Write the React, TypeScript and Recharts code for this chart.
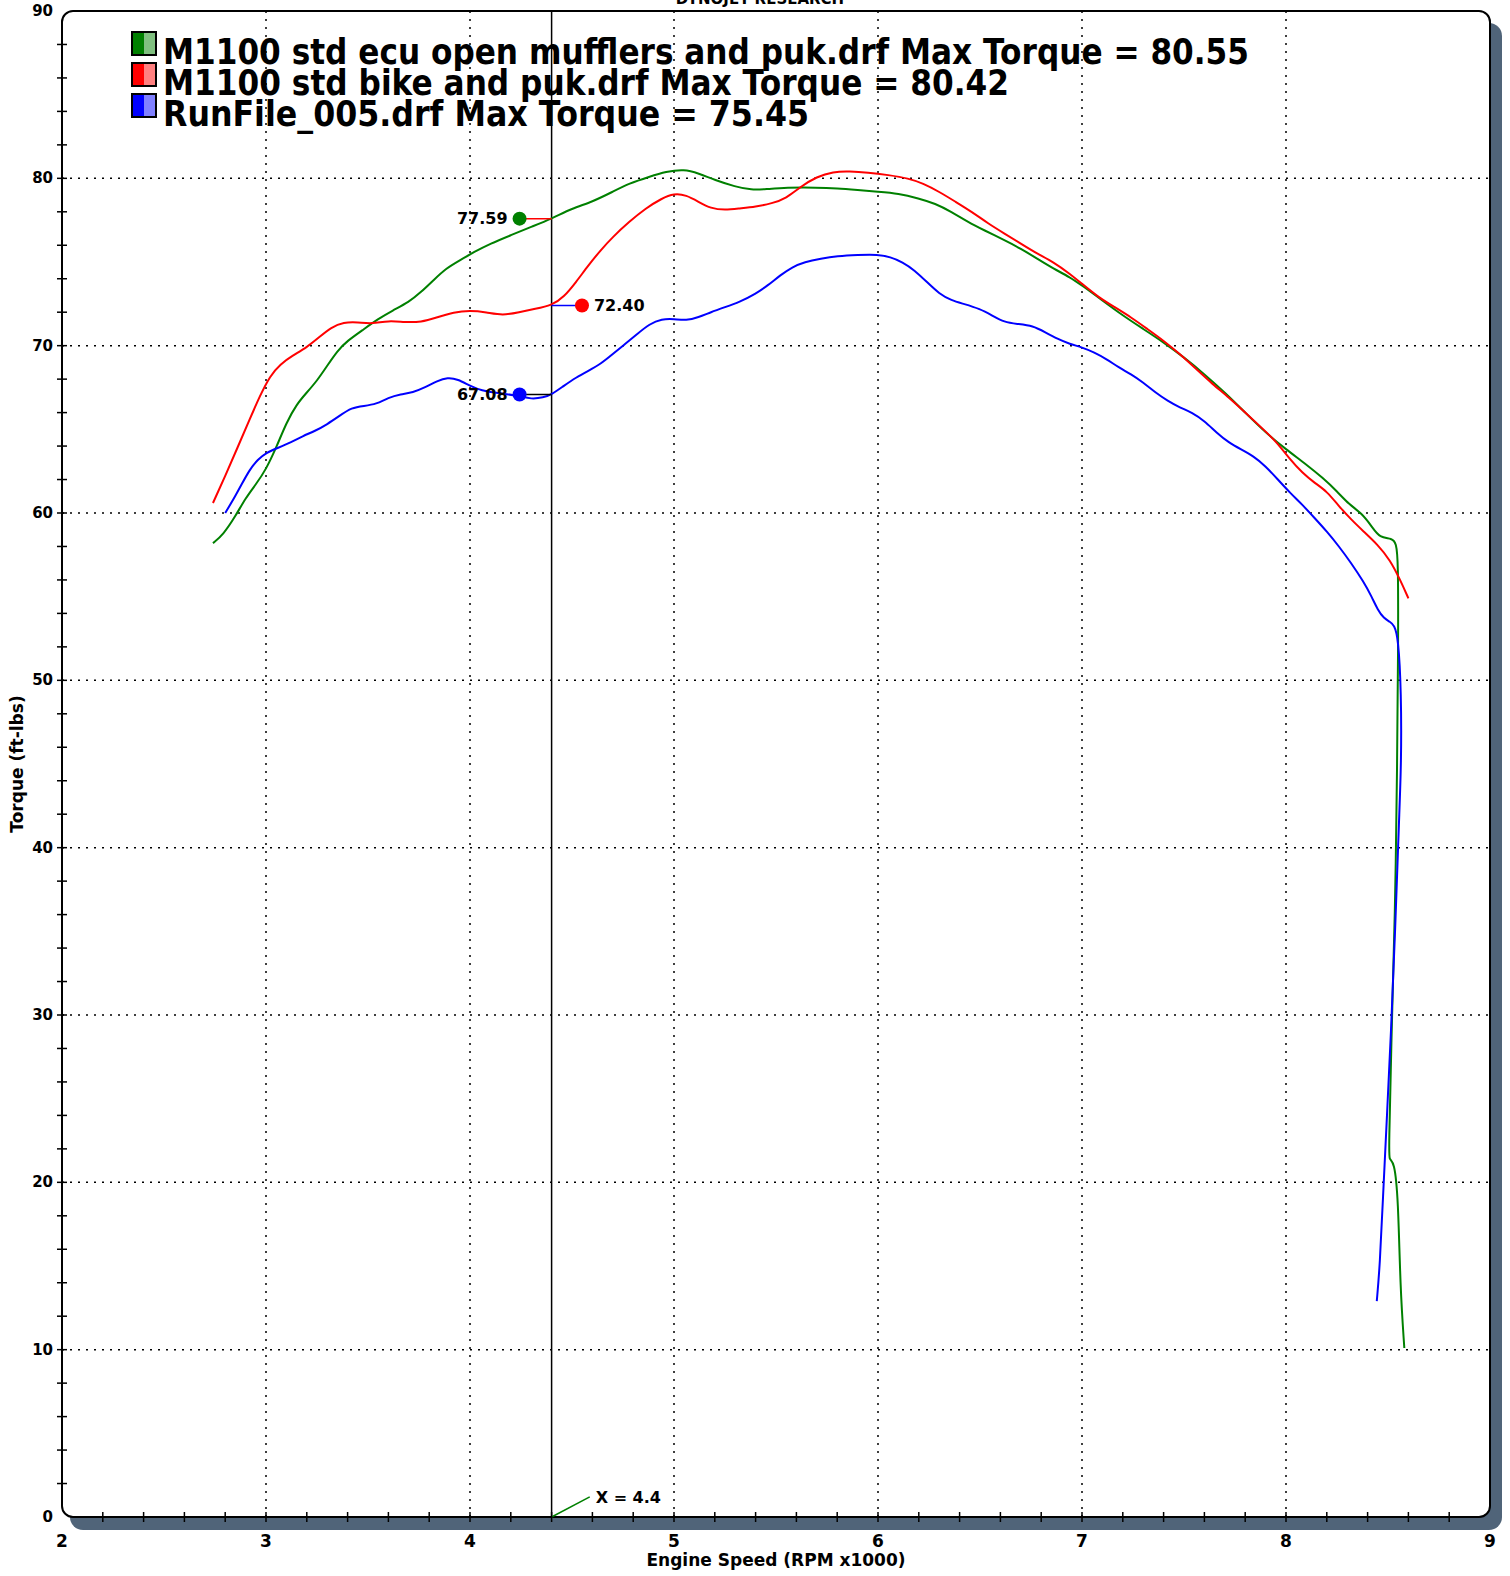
import { LineChart, Line, XAxis, YAxis, ReferenceLine, ReferenceDot } from "recharts";

// dyno run values (rpm x1000, ft-lbs)
const greenRun: [number, number][] = [
  [2.74, 58.2], [2.79, 58.7], [2.85, 59.8], [2.9, 60.9], [2.95, 61.7], [3.0, 62.6], [3.05, 63.9],
  [3.1, 65.4], [3.15, 66.5], [3.2, 67.2], [3.25, 67.9], [3.3, 68.8], [3.35, 69.7], [3.4, 70.3],
  [3.47, 70.9], [3.55, 71.6], [3.62, 72.1], [3.7, 72.6], [3.76, 73.2], [3.82, 73.9], [3.88, 74.6],
  [3.95, 75.1], [4.02, 75.6], [4.1, 76.1], [4.2, 76.6], [4.3, 77.1], [4.4, 77.59], [4.5, 78.2],
  [4.6, 78.6], [4.7, 79.2], [4.78, 79.7], [4.88, 80.1], [4.96, 80.4], [5.05, 80.55], [5.12, 80.3],
  [5.2, 79.9], [5.3, 79.5], [5.38, 79.3], [5.45, 79.35], [5.55, 79.45], [5.7, 79.45], [5.8, 79.4],
  [5.9, 79.3], [6.0, 79.2], [6.1, 79.1], [6.2, 78.8], [6.28, 78.5], [6.36, 78.0], [6.44, 77.4],
  [6.52, 76.9], [6.62, 76.3], [6.7, 75.8], [6.78, 75.2], [6.86, 74.6], [6.94, 74.1], [7.0, 73.6],
  [7.1, 72.7], [7.2, 71.8], [7.3, 71.0], [7.4, 70.2], [7.5, 69.3], [7.6, 68.3], [7.7, 67.2],
  [7.8, 66.0], [7.9, 64.8], [8.0, 63.8], [8.1, 62.9], [8.18, 62.1], [8.25, 61.3], [8.31, 60.5],
  [8.37, 60.0], [8.42, 59.2], [8.46, 58.5], [8.52, 58.5], [8.54, 58.2], [8.55, 57.2], [8.55, 52.0],
  [8.545, 45], [8.535, 36], [8.515, 28], [8.505, 22], [8.505, 21.3], [8.53, 21.3], [8.55, 19.1],
  [8.56, 13.7], [8.58, 10.1],
];

const redRun: [number, number][] = [
  [2.74, 60.6], [2.8, 62.2], [2.86, 63.9], [2.92, 65.6], [2.97, 67.0], [3.02, 68.2], [3.07, 68.9],
  [3.13, 69.4], [3.2, 69.9], [3.26, 70.5], [3.32, 71.1], [3.38, 71.4], [3.45, 71.4], [3.52, 71.3],
  [3.6, 71.5], [3.68, 71.4], [3.76, 71.4], [3.84, 71.7], [3.92, 72.0], [4.0, 72.1], [4.08, 72.0],
  [4.16, 71.8], [4.24, 72.0], [4.32, 72.2], [4.4, 72.4], [4.46, 72.9], [4.52, 73.8], [4.58, 74.8],
  [4.64, 75.7], [4.7, 76.5], [4.78, 77.4], [4.86, 78.2], [4.94, 78.8], [5.0, 79.1], [5.06, 79.0],
  [5.12, 78.6], [5.18, 78.2], [5.25, 78.1], [5.32, 78.2], [5.4, 78.3], [5.48, 78.5], [5.55, 78.8],
  [5.62, 79.5], [5.7, 80.1], [5.78, 80.4], [5.86, 80.42], [5.95, 80.35], [6.05, 80.2], [6.15, 80.0],
  [6.22, 79.7], [6.3, 79.2], [6.38, 78.6], [6.46, 78.0], [6.54, 77.3], [6.62, 76.7], [6.7, 76.1],
  [6.78, 75.5], [6.86, 75.0], [6.94, 74.3], [7.0, 73.7], [7.08, 72.9], [7.16, 72.3], [7.24, 71.7],
  [7.32, 71.0], [7.4, 70.3], [7.48, 69.5], [7.56, 68.6], [7.64, 67.7], [7.72, 66.9], [7.8, 66.0],
  [7.88, 65.1], [7.95, 64.3], [8.02, 63.2], [8.08, 62.4], [8.14, 61.8], [8.2, 61.3], [8.26, 60.4],
  [8.32, 59.6], [8.38, 58.9], [8.45, 58.1], [8.51, 57.2], [8.56, 56.0], [8.6, 54.9],
];

const blueRun: [number, number][] = [
  [2.8, 60.0], [2.84, 60.8], [2.88, 61.7], [2.92, 62.6], [2.96, 63.2], [3.0, 63.6], [3.06, 63.9],
  [3.12, 64.2], [3.18, 64.6], [3.24, 64.9], [3.3, 65.3], [3.36, 65.8], [3.42, 66.3], [3.48, 66.4],
  [3.54, 66.5], [3.6, 66.9], [3.66, 67.1], [3.72, 67.2], [3.78, 67.5], [3.84, 67.9], [3.89, 68.1],
  [3.94, 68.0], [4.0, 67.6], [4.06, 67.3], [4.12, 67.2], [4.18, 67.1], [4.24, 67.0], [4.3, 66.8],
  [4.36, 66.9], [4.4, 67.08], [4.46, 67.6], [4.52, 68.1], [4.58, 68.5], [4.64, 68.9], [4.7, 69.5],
  [4.76, 70.1], [4.82, 70.7], [4.88, 71.3], [4.94, 71.6], [5.0, 71.6], [5.06, 71.5], [5.12, 71.7],
  [5.18, 72.0], [5.25, 72.3], [5.32, 72.6], [5.4, 73.1], [5.46, 73.6], [5.52, 74.2], [5.58, 74.7],
  [5.64, 75.0], [5.72, 75.2], [5.8, 75.35], [5.9, 75.42], [6.0, 75.45], [6.06, 75.3], [6.12, 75.0],
  [6.18, 74.5], [6.24, 73.8], [6.3, 73.1], [6.36, 72.7], [6.42, 72.5], [6.5, 72.2], [6.56, 71.8],
  [6.62, 71.4], [6.68, 71.3], [6.76, 71.2], [6.82, 70.8], [6.88, 70.4], [6.94, 70.1], [7.0, 69.9],
  [7.06, 69.6], [7.12, 69.2], [7.18, 68.7], [7.24, 68.3], [7.3, 67.8], [7.36, 67.2], [7.42, 66.7],
  [7.48, 66.3], [7.54, 66.0], [7.6, 65.5], [7.66, 64.8], [7.72, 64.2], [7.78, 63.8], [7.84, 63.4],
  [7.9, 62.8], [7.96, 62.0], [8.02, 61.2], [8.08, 60.5], [8.14, 59.7], [8.2, 58.9], [8.26, 58.0],
  [8.32, 57.0], [8.38, 55.9], [8.42, 55.0], [8.45, 54.2], [8.48, 53.7], [8.51, 53.5], [8.53, 53.3],
  [8.55, 52.6], [8.565, 49.3], [8.565, 45], [8.555, 42], [8.535, 35], [8.515, 29], [8.495, 24],
  [8.475, 19], [8.46, 15], [8.445, 12.9],
];

const legendLabels = [
  "M1100 std ecu open mufflers and puk.drf Max Torque = 80.55",
  "M1100 std bike and puk.drf Max Torque = 80.42",
  "RunFile_005.drf Max Torque = 75.45",
];

const xTicks = Array.from({ length: 36 }, (_, i) => Math.round((2 + i * 0.2) * 10) / 10);
const yTicks = Array.from({ length: 46 }, (_, i) => i * 2);
const gridX = [3, 4, 5, 6, 7, 8];
const gridY = [10, 20, 30, 40, 50, 60, 70, 80];

const cursorRpm = 4.4;
const cursorValues = { green: 77.59, red: 72.4, blue: 67.08 };

const GREEN = "#008000";
const RED = "#ff0000";
const BLUE = "#0000ff";
const SHADOW = "#506479";
const FONT = "'DejaVu Sans', Verdana, sans-serif";

const toRows = (pts: [number, number][]) => pts.map(([rpm, torque]) => ({ rpm, torque }));

const isMajor = (v: number) => Math.abs(v - Math.round(v)) < 1e-6;

function XTick({ x, y, payload }: any) {
  const v = payload.value;
  const corner = v === 2 || v === 9;
  return (
    <g>
      {!corner && <line x1={x} x2={x} y1={y - 5} y2={y + 5} stroke="#000" strokeWidth={1.5} />}
      {isMajor(v) && (
        <text x={x} y={y + 30} textAnchor="middle" fontFamily={FONT} fontWeight="bold" fontSize={17} fill="#000">
          {v}
        </text>
      )}
    </g>
  );
}

function YTick({ x, y, payload }: any) {
  const v = payload.value;
  const corner = v === 0 || v === 90;
  return (
    <g>
      {!corner && <line x1={x - 5} x2={x + 5} y1={y} y2={y} stroke="#000" strokeWidth={1.5} />}
      {v % 10 === 0 && (
        <text x={x - 9} y={y + 5} textAnchor="end" fontFamily={FONT} fontWeight="bold" fontSize={15} fill="#000">
          {v}
        </text>
      )}
    </g>
  );
}

const dotLabel = (value: string, position: "left" | "right") => ({
  value,
  position,
  offset: 5,
  fill: "#000",
  fontFamily: FONT,
  fontWeight: "bold",
  fontSize: 16,
});

export default function App() {
  const colors = [GREEN, RED, BLUE];
  const lights = ["#80c080", "#ff8080", "#8080ff"];
  const widths = [1086, 846, 646];

  return (
    <div style={{ position: "absolute", left: 0, top: 0, width: 1510, height: 1576, background: "#fff" }}>
      <div
        style={{
          position: "absolute",
          left: 70,
          top: 23,
          width: 1432,
          height: 1507,
          background: SHADOW,
          borderRadius: 13,
        }}
      />
      <div
        style={{
          position: "absolute",
          left: 61,
          top: 10,
          width: 1430,
          height: 1508,
          boxSizing: "border-box",
          border: "2px solid #000",
          borderRadius: 12,
          background: "#fff",
        }}
      />
      <div style={{ position: "absolute", left: 0, top: 0 }}>
        <LineChart width={1510} height={1576} margin={{ top: 11, right: 20, bottom: 0, left: 0 }}>
          <XAxis
            type="number"
            dataKey="rpm"
            domain={[2, 9]}
            ticks={xTicks}
            interval={0}
            allowDataOverflow
            axisLine={false}
            tickLine={false}
            tickSize={0}
            tickMargin={0}
            height={59}
            tick={<XTick />}
          />
          <YAxis
            type="number"
            domain={[0, 90]}
            ticks={yTicks}
            interval={0}
            allowDataOverflow
            axisLine={false}
            tickLine={false}
            tickSize={0}
            tickMargin={0}
            width={62}
            tick={<YTick />}
          />
          {gridX.map((v) => (
            <ReferenceLine key={`gx${v}`} x={v} stroke="#000" strokeWidth={1.5} strokeDasharray="2 6" />
          ))}
          {gridY.map((v) => (
            <ReferenceLine key={`gy${v}`} y={v} stroke="#000" strokeWidth={1.5} strokeDasharray="2 6" />
          ))}
          <ReferenceLine x={cursorRpm} stroke="#000" strokeWidth={1.5} />

          <Line data={toRows(greenRun)} dataKey="torque" type="basis" stroke={GREEN} strokeWidth={2} dot={false} activeDot={false} isAnimationActive={false} />
          <Line data={toRows(redRun)} dataKey="torque" type="basis" stroke={RED} strokeWidth={2} dot={false} activeDot={false} isAnimationActive={false} />
          <Line data={toRows(blueRun)} dataKey="torque" type="basis" stroke={BLUE} strokeWidth={2} dot={false} activeDot={false} isAnimationActive={false} />

          <ReferenceLine
            segment={[{ x: 4.243, y: cursorValues.green }, { x: cursorRpm, y: cursorValues.green }]}
            stroke={RED}
            strokeWidth={1.5}
          />
          <ReferenceLine
            segment={[{ x: cursorRpm, y: cursorValues.red }, { x: 4.549, y: cursorValues.red }]}
            stroke={BLUE}
            strokeWidth={1.5}
          />
          <ReferenceLine
            segment={[{ x: 4.243, y: cursorValues.blue }, { x: cursorRpm, y: cursorValues.blue }]}
            stroke="#000"
            strokeWidth={1.5}
          />
          <ReferenceLine segment={[{ x: cursorRpm, y: 0 }, { x: 4.587, y: 1.2 }]} stroke={GREEN} strokeWidth={1.5} />

          <ReferenceDot x={4.243} y={cursorValues.green} r={7} fill={GREEN} stroke="none" label={dotLabel("77.59", "left")} />
          <ReferenceDot x={4.549} y={cursorValues.red} r={7} fill={RED} stroke="none" label={dotLabel("72.40", "right")} />
          <ReferenceDot x={4.243} y={cursorValues.blue} r={7} fill={BLUE} stroke="none" label={dotLabel("67.08", "left")} />
          <ReferenceDot x={4.587} y={1.2} r={1} fill="none" stroke="none" label={dotLabel("X = 4.4", "right")} />
        </LineChart>
      </div>

      <svg width={1510} height={1576} style={{ position: "absolute", left: 0, top: 0, pointerEvents: "none" }}>
        <text x={760} y={4} textAnchor="middle" fontFamily={FONT} fontWeight="bold" fontSize={15} fill="#000">
          DYNOJET RESEARCH
        </text>
        {legendLabels.map((label, i) => (
          <g key={label}>
            <rect x={132} y={32 + i * 31} width={12} height={23} fill={colors[i]} />
            <rect x={144} y={32 + i * 31} width={12} height={23} fill={lights[i]} />
            <rect x={132} y={32 + i * 31} width={24} height={23} fill="none" stroke="#000" strokeWidth={2} />
            <text
              x={163}
              y={64 + i * 31}
              fontFamily={FONT}
              fontWeight="bold"
              fontSize={35}
              textLength={widths[i]}
              lengthAdjust="spacingAndGlyphs"
              fill="#000"
            >
              {label}
            </text>
          </g>
        ))}
        <text x={776} y={1566} textAnchor="middle" fontFamily={FONT} fontWeight="bold" fontSize={17} fill="#000">
          Engine Speed (RPM x1000)
        </text>
        <text
          x={0}
          y={0}
          transform="translate(23 764) rotate(-90)"
          textAnchor="middle"
          fontFamily={FONT}
          fontWeight="bold"
          fontSize={17}
          fill="#000"
        >
          Torque (ft-lbs)
        </text>
      </svg>
    </div>
  );
}
